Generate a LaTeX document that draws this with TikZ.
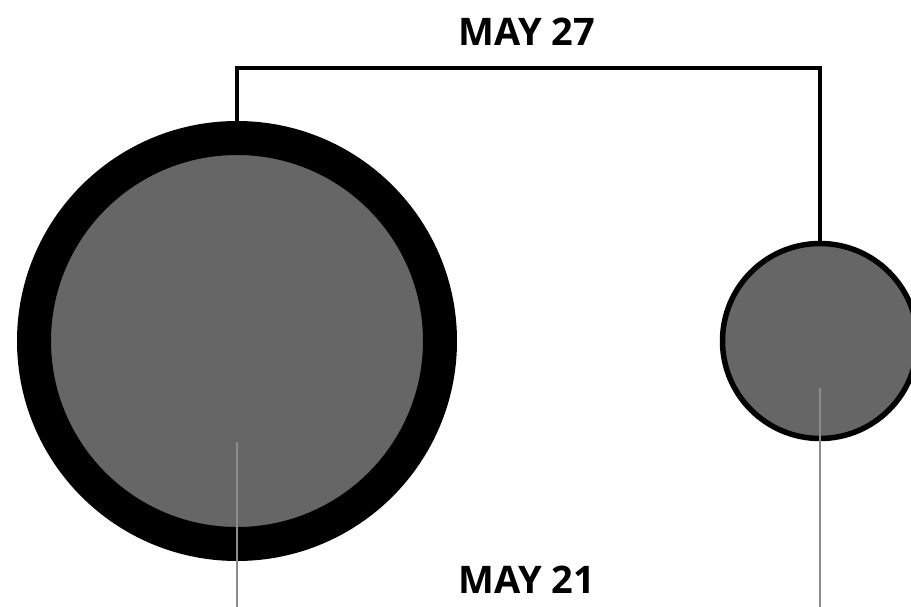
\documentclass[tikz,border=0pt]{standalone}
\usepackage{fontspec}
\setmainfont{Open Sans}
\usepackage{tikz}

\definecolor{discgray}{HTML}{666666}
\definecolor{stemgray}{HTML}{8C8C8C}

\tikzset{
  disc/.style={circle, draw=black, fill=discgray, inner sep=0pt},
  bracket/.style={draw=black, line width=4pt},
  stem/.style={draw=stemgray, line width=2pt},
  datelabel/.style={font=\bfseries\fontsize{38}{40}\selectfont, inner sep=0pt}
}

\begin{document}
\begin{tikzpicture}[x=1pt, y=-1pt]
                % Frame
                \useasboundingbox (0,0) rectangle (911,607);
                \clip (0,0) rectangle (911,607);

                % Discs
                \node[disc, line width=34pt, minimum size=406pt] (bigdisc) at (237,341) {};
                \node[disc, line width=5.5pt, minimum size=195pt] (smalldisc) at (820,341) {};

                % Bracket between the two discs
                \coordinate (level) at (527,68);
                \draw[bracket] (bigdisc.north) |- (level) -| (smalldisc.north);

                % Stems
                \coordinate (bigstemtop) at (237,442);
                \coordinate (bigstemend) at (237,607);
                \coordinate (smallstemtop) at (820,388);
                \coordinate (smallstemend) at (820,607);
                \draw[stem] (bigstemtop) -- (bigstemend);
                \draw[stem] (smallstemtop) -- (smallstemend);

                % Labels
                \node[datelabel] (toplabel) at (527,32) {MAY 27};
                \node[datelabel] (bottomlabel) at (527,580) {MAY 21};
            \end{tikzpicture}
\end{document}
